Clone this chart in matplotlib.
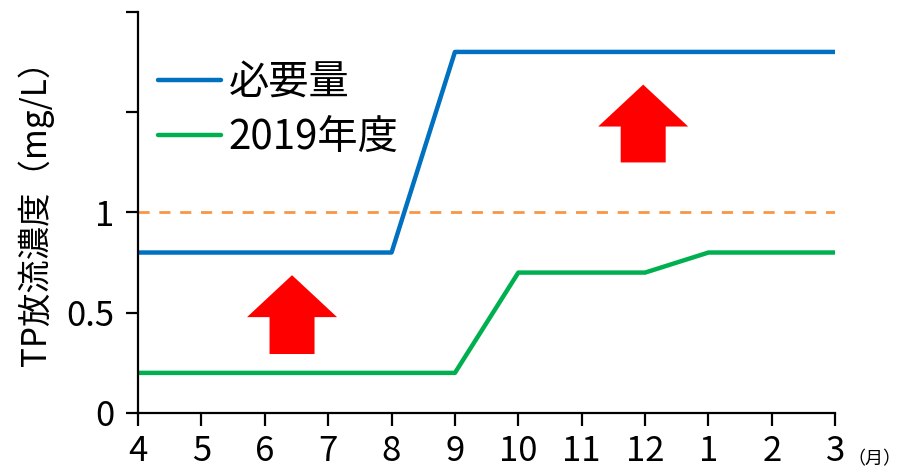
import matplotlib.pyplot as plt
from matplotlib.patches import FancyArrow

plt.rcParams['font.family'] = ['Noto Sans CJK JP', 'DejaVu Sans']

months = ['4', '5', '6', '7', '8', '9', '10', '11', '12', '1', '2', '3']
required = [0.8, 0.8, 0.8, 0.8, 0.8, 1.8, 1.8, 1.8, 1.8, 1.8, 1.8, 1.8]
fy2019 = [0.2, 0.2, 0.2, 0.2, 0.2, 0.2, 0.7, 0.7, 0.7, 0.8, 0.8, 0.8]
limit = 1.0
yticks = [0, 0.5, 1, 1.5, 2]
ytick_labels = ['0', '0.5', '1', '', '']

x = list(range(len(months)))

fig = plt.figure(figsize=(9.02, 4.72), dpi=100)
ax = fig.add_axes([0.153, 0.125, 0.773, 0.85])

ax.plot(x, required, color='#0070C0', lw=3.2, label='必要量', solid_capstyle='round')
ax.plot(x, fy2019, color='#00B050', lw=3.2, label='2019年度', solid_capstyle='round')
ax.axhline(limit, color='#F79646', lw=2, ls=(0, (4, 3.5)))

# red "increase" arrows
for cx, y0, y1 in [(2.43, 0.294, 0.687), (7.97, 1.249, 1.637)]:
    ax.add_patch(FancyArrow(cx, y0, 0, y1 - y0, width=0.71, head_width=1.42,
                            head_length=0.209, length_includes_head=True,
                            color='#FF0000', lw=0))

ax.set_xlim(0, 11)
ax.set_ylim(0, 2)
ax.set_xticks(x)
ax.set_xticklabels(months, fontsize=25)
ax.set_yticks(yticks)
ax.set_yticklabels(ytick_labels, fontsize=25)
ax.tick_params(axis='both', direction='out', length=9, width=1.6, pad=8)
ax.tick_params(axis='x', pad=6)
for s in ['top', 'right']:
    ax.spines[s].set_visible(False)
for s in ['left', 'bottom']:
    ax.spines[s].set_linewidth(1.6)
ax.spines['left'].set_bounds(0, 2)

ax.set_ylabel('TP放流濃度（mg/L）', fontsize=24)
ax.yaxis.set_label_coords(-0.12, 0.52)
ax.text(11.2, -0.23, '（月）', fontsize=13, transform=ax.transData,
        ha='left', va='center', clip_on=False)

leg = ax.legend(loc='upper left', bbox_to_anchor=(0.029, 0.875), frameon=False,
                fontsize=29, handlelength=1.55, handletextpad=0.2, labelspacing=0.35,
                borderaxespad=0, borderpad=0)

fig.savefig('out.png', dpi=100)
